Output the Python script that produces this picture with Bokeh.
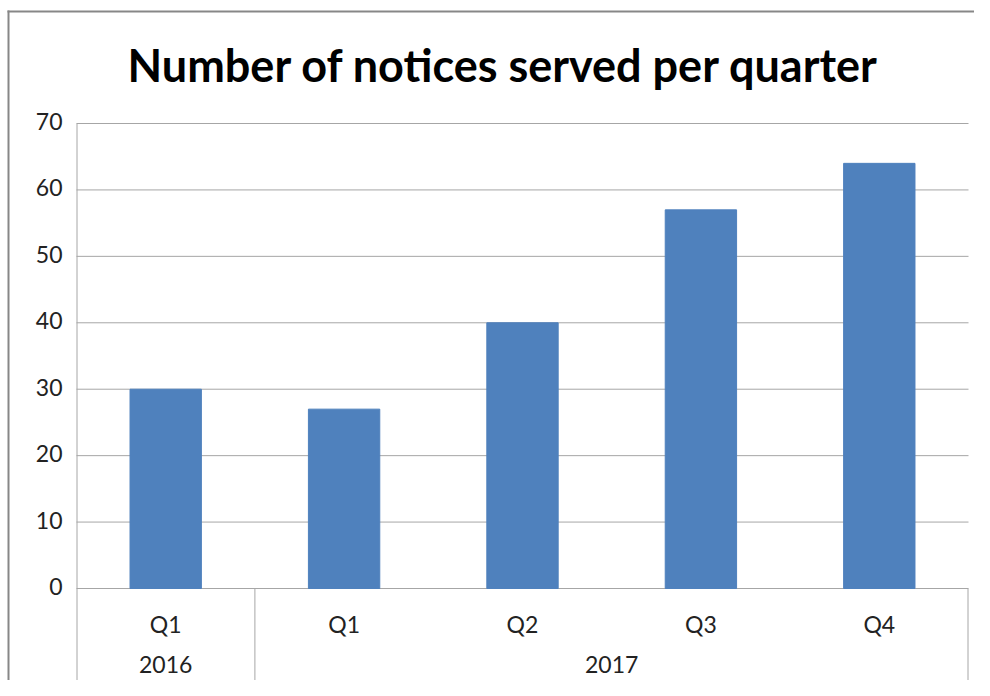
from bokeh.plotting import figure
from bokeh.models import Range1d, ColumnDataSource
from bokeh.core.properties import value
from bokeh.embed import file_html
from bokeh.resources import INLINE

# ---- data ----
years = ["2016", "2017"]
quarters = ["Q1", "Q1", "Q2", "Q3", "Q4"]
quarter_year = ["2016", "2017", "2017", "2017", "2017"]
notices = [30, 27, 40, 57, 64]
y_ticks = [0, 10, 20, 30, 40, 50, 60, 70]
title = "Number of notices served per quarter"

# ---- layout (pixel geometry of the picture) ----
W, H = 974, 680
n = len(quarters)
frame_left_px, frame_right_px = 76, 968
top_px, zero_px = 123, 588
ppu_x = (frame_right_px - frame_left_px) / n
ppu_y = (zero_px - top_px) / y_ticks[-1]


def dx(px):
    return (px - frame_left_px) / ppu_x


def dy(py):
    return (zero_px - py) / ppu_y


GRID = "#a6a6a6"
TEXT = "#222222"
FONT = value("Lato")

p = figure(width=W, height=H, output_backend="svg", toolbar_location=None,
           x_range=Range1d(dx(0), dx(W)), y_range=Range1d(dy(H), dy(0)),
           x_axis_location=None, y_axis_location=None, min_border=0)
p.outline_line_color = None
p.background_fill_color = "white"
p.border_fill_color = "white"
for g in p.grid:
    g.visible = False
p.xgrid.grid_line_color = None
p.ygrid.grid_line_color = None

# chart border (top and left edges)
p.segment(x0=[dx(8), dx(7)], x1=[dx(8), dx(W)], y0=[dy(10), dy(11)],
          y1=[dy(H), dy(11)], line_color="#878787", line_width=2)

# horizontal gridlines at the value ticks
p.segment(x0=[0] * len(y_ticks), x1=[n] * len(y_ticks), y0=y_ticks, y1=y_ticks,
          line_color=GRID, line_width=1)

# value axis line (runs down through the category area)
ax_x = dx(frame_left_px + 0.5)
p.segment(x0=[ax_x], x1=[ax_x], y0=[dy(H)], y1=[y_ticks[-1]],
          line_color=GRID, line_width=1)

# value tick labels
lab_shift = 2 / ppu_y
p.text(x=[dx(62)] * len(y_ticks), y=[t + lab_shift for t in y_ticks],
       text=[str(t) for t in y_ticks], text_font=FONT, text_font_size="23px",
       text_color=TEXT, text_align="right", text_baseline="middle")

# bars
xs = [i + 0.5 for i in range(n)]
src = ColumnDataSource(dict(x=xs, top=notices, q=quarters))
p.vbar(x="x", top="top", width=0.4, source=src, fill_color="#4F81BD",
       line_color="#4F81BD")

# category axis: group separators
year_starts = []
for i, yr in enumerate(quarter_year):
    if i == 0 or quarter_year[i - 1] != yr:
        year_starts.append(i)
sep_x = [s for s in year_starts if s > 0] + [n - 0.5 / ppu_x]
p.segment(x0=sep_x, x1=sep_x, y0=[dy(H)] * len(sep_x), y1=[0] * len(sep_x),
          line_color=GRID, line_width=1)

# quarter labels and year labels
p.text(x="x", y=dy(623), text="q", source=src, text_font=FONT,
       text_font_size="23px", text_color=TEXT, text_align="center",
       text_baseline="middle")

yr_x = []
for k, s in enumerate(year_starts):
    e = year_starts[k + 1] if k + 1 < len(year_starts) else n
    yr_x.append((s + e) / 2)
p.text(x=yr_x, y=[dy(664)] * len(yr_x), text=years, text_font=FONT,
       text_font_size="23px", text_color=TEXT, text_align="center",
       text_baseline="middle")

# chart title
p.text(x=[dx(127)], y=[dy(64)], text=[title], text_font=FONT,
       text_font_size="45px", text_font_style="bold", text_color="black",
       text_align="left", text_baseline="alphabetic")

open("out.html", "w").write(file_html(p, INLINE))
